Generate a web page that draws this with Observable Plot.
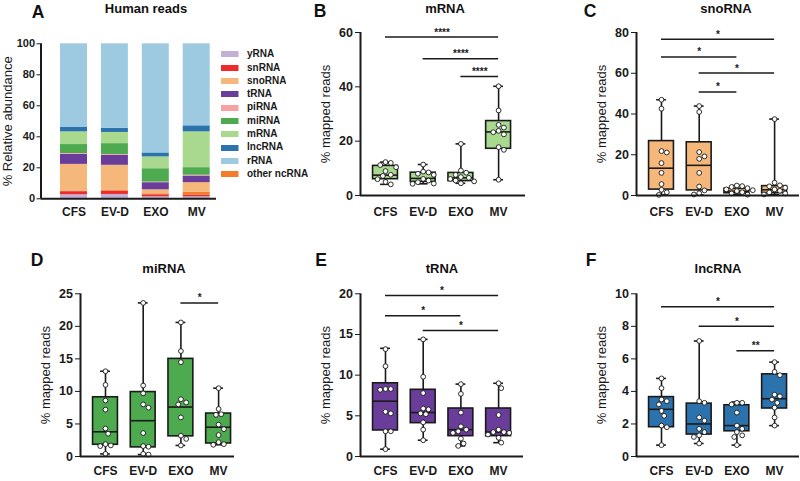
<!DOCTYPE html>
<html><head><meta charset="utf-8">
<script src="https://cdn.jsdelivr.net/npm/d3@7"></script>
<script src="https://cdn.jsdelivr.net/npm/@observablehq/plot@0.6"></script>
<style>
body{margin:0;background:#fff;}
#fig{position:relative;width:800px;height:481px;overflow:hidden;font-family:"Liberation Sans",Arial,sans-serif;background:#fff;}
#fig > svg{position:absolute;overflow:visible;}
.lbl{position:absolute;font-weight:bold;color:#111;transform:translate(-50%,-50%);white-space:nowrap;line-height:1;}
.letter{font-size:17.5px;}
.title{font-size:13px;}
g[aria-label="y-axis label"]{font-weight:normal;font-size:13px;}
g[aria-label="x-axis tick label"]{font-size:12px;}
#panelA g[aria-label="y-axis tick label"]{font-size:11px;}
#legend{position:absolute;left:220.5px;top:48.3px;margin:0;}
#legend svg{margin-right:9px !important;}
</style></head><body><div id="fig"></div>
<script>
const ink = "#1a1a1a";
const groups = ["CFS","EV-D","EXO","MV"];

// Panel A: relative abundance (%), values in rnaTypes order
const rnaTypes = ["yRNA","snRNA","snoRNA","tRNA","piRNA","miRNA","mRNA","lncRNA","rRNA","other ncRNA"];
const rnaColors = ["#c5b0d5","#ee2a2a","#f6b77b","#6a3d9a","#f7a1a3","#4eaa4e","#a8d98f","#2c73ae","#9ecae1","#f47c2a"];
const stackOrder = ["yRNA","snRNA","other ncRNA","snoRNA","tRNA","piRNA","miRNA","mRNA","lncRNA","rRNA"];
const abundCFS = [2.6, 2.0, 17.2, 6.5, 0.5, 5.8, 8.2, 2.8, 54.0, 0.4];
const abundEVD = [2.8, 2.2, 16.2, 6.5, 0.5, 7.0, 7.2, 2.6, 54.6, 0.4];
const abundEXO = [1.3, 1.3, 2.6, 4.6, 0.4, 8.6, 7.6, 2.6, 70.4, 0.6];
const abundMV  = [1.3, 1.0, 6.1, 4.3, 0.5, 4.9, 23.1, 3.9, 52.9, 2.0];
const abundTicks = [0,20,40,60,80,100];

// Panel B: mRNA
const mrnaPoints = [
  [12.3, 12.0, 11.2, 10.4, 9.0, 7.6, 7.2, 6.0, 5.0, 4.1],
  [11.4, 8.8, 8.5, 8.0, 7.6, 6.1, 5.5, 4.9, 4.4, 4.3],
  [19.0, 9.2, 8.4, 7.6, 6.8, 6.5, 6.1, 5.5, 5.2, 4.5],
  [40.2, 31.3, 26.0, 25.0, 23.8, 23.3, 22.5, 17.8, 16.8, 5.8]];
const mrnaBox = [[4.1,6.0,7.5,10.9,12.3],[4.3,5.0,6.3,8.4,11.4],[4.5,5.3,6.5,8.3,19.0],[5.8,17.2,23.4,27.4,40.2]];
const mrnaSig = [["CFS","MV",58.3,"****"],["EV-D","MV",50.3,"****"],["EXO","MV",43.8,"****"]];
const mrnaTicks = [0,20,40,60];

// Panel C: snoRNA
const snoPoints = [
  [47.0, 42.6, 21.8, 21.1, 15.9, 11.1, 5.6, 2.8, 1.6, 0.3],
  [43.9, 41.0, 21.3, 19.2, 18.0, 11.1, 4.4, 2.5, 1.1, 0.5],
  [4.9, 4.6, 4.2, 3.6, 3.0, 2.6, 2.2, 1.6, 1.0, 0.4],
  [37.5, 6.3, 5.0, 4.5, 3.8, 3.0, 2.3, 1.5, 1.0, 0.5]];
const snoBox = [[0.3,2.9,13.4,26.7,47.0],[0.3,2.5,14.8,26.1,43.9],[0.4,1.1,2.1,3.3,4.9],[0.5,1.2,2.8,4.6,37.5]];
const snoSig = [["CFS","MV",76.7,"*"],["CFS","EXO",68.0,"*"],["EV-D","MV",60.1,"*"],["EV-D","EXO",50.8,"*"]];
const snoTicks = [0,20,40,60,80];

// Panel D: miRNA
const mirPoints = [
  [13.1, 11.0, 8.6, 7.2, 4.3, 3.5, 1.9, 1.7, 1.6, 0.4],
  [23.6, 10.9, 9.7, 8.0, 7.5, 3.6, 1.6, 1.5, 0.4, 0.3],
  [20.6, 16.2, 14.5, 8.8, 8.3, 8.0, 6.0, 3.2, 2.7, 1.7],
  [10.5, 7.3, 6.5, 6.4, 4.9, 4.2, 3.3, 2.2, 1.9, 1.8]];
const mirBox = [[0.4,1.8,3.8,9.1,13.1],[0.3,1.4,5.5,9.9,23.6],[1.7,3.1,7.6,15.0,20.6],[1.8,2.0,4.5,6.6,10.5]];
const mirSig = [["EXO","MV",23.6,"*"]];
const mirTicks = [0,5,10,15,20,25];

// Panel E: tRNA
const trnaPoints = [
  [13.2, 11.1, 8.3, 8.3, 8.2, 5.5, 5.3, 3.1, 3.1, 0.9],
  [14.4, 9.8, 7.8, 5.9, 5.8, 5.3, 5.2, 4.2, 3.3, 2.0],
  [8.9, 7.7, 5.4, 3.7, 3.3, 3.1, 2.9, 2.2, 1.6, 1.3],
  [9.0, 8.4, 5.1, 3.3, 3.0, 3.0, 2.9, 2.7, 2.3, 1.7]];
const trnaBox = [[0.9,3.2,6.8,9.0,13.3],[2.0,4.1,5.4,8.2,14.4],[1.3,2.5,3.3,5.9,8.9],[1.7,2.5,3.0,5.9,9.0]];
const trnaSig = [["CFS","MV",19.8,"*"],["CFS","EXO",17.3,"*"],["EV-D","MV",15.5,"*"]];
const trnaTicks = [0,5,10,15,20];

// Panel F: lncRNA
const lncPoints = [
  [4.8, 4.2, 3.5, 3.4, 3.2, 2.8, 2.5, 1.9, 1.8, 0.7],
  [7.1, 3.4, 3.3, 2.4, 2.2, 1.7, 1.5, 1.3, 1.2, 0.8],
  [3.3, 3.3, 3.2, 2.7, 1.9, 1.7, 1.5, 1.3, 1.2, 0.7],
  [5.8, 5.2, 5.0, 3.8, 3.7, 3.5, 3.3, 3.0, 2.4, 1.9]];
const lncBox = [[0.7,1.8,2.9,3.65,4.8],[0.8,1.35,2.0,3.25,7.1],[0.7,1.55,1.9,3.15,3.35],[1.9,2.95,3.55,5.05,5.8]];
const lncSig = [["CFS","MV",9.2,"*"],["EV-D","MV",8.0,"*"],["EXO","MV",6.5,"**"]];
const lncTicks = [0,2,4,6,8,10];

const fig = document.getElementById("fig");
function label(text, x, y, cls) {
  const d = document.createElement("div");
  d.className = "lbl " + cls; d.textContent = text;
  d.style.left = x + "px"; d.style.top = y + "px";
  fig.appendChild(d);
}
function place(svg, L, T) { svg.style.left = L + "px"; svg.style.top = T + "px"; fig.appendChild(svg); }
const baseStyle = {fontFamily: '"Liberation Sans", Arial, sans-serif', fontSize: "12.5px", fontWeight: "bold", color: ink, background: "transparent", overflow: "visible"};

// beeswarm offsets (px) so dots of one group don't overlap
function swarm(values, pxPerY, r) {
  const d = 2 * r + 0.5, placed = [], offs = new Array(values.length);
  const order = d3.range(values.length).sort((a, b) => values[b] - values[a]);
  for (const k of order) {
    const y = values[k] * pxPerY;
    for (let j = 0; j < 40; j++) {
      const o = j === 0 ? 0 : (j % 2 ? 1 : -1) * Math.ceil(j / 2) * d * 0.5;
      if (placed.every(p => Math.hypot(p[0] - o, p[1] - y) >= d)) { offs[k] = o; placed.push([o, y]); break; }
    }
  }
  return offs;
}

// ---- Panel A ----
(function () {
  const L = 0, T = 0, W = 222, H = 225, x0 = 40.5, xEnd = 216, c0 = 73.5, step = 40.9, yTop = 43.3, yBot = 198.3;
  const series = [abundCFS, abundEVD, abundEXO, abundMV];
  const rows = [];
  series.forEach((vals, i) => {
    let acc = 0;
    for (const t of stackOrder) {
      const v = vals[rnaTypes.indexOf(t)];
      rows.push({i, type: t, y1: acc, y2: acc + v});
      acc += v;
    }
  });
  const svg = Plot.plot({
    width: W, height: H, marginLeft: x0 - L, marginRight: L + W - xEnd, marginTop: yTop - T, marginBottom: T + H - yBot,
    style: baseStyle,
    x: {domain: [(x0 - c0) / step, (xEnd - c0) / step]},
    y: {domain: [0, 100]},
    color: {domain: rnaTypes, range: rnaColors},
    marks: [
      Plot.rect(rows, {x1: d => d.i - 0.33, x2: d => d.i + 0.33, y1: "y1", y2: "y2", fill: "type"}),
      Plot.axisY({ticks: abundTicks, tickSize: 4, tickPadding: 2, label: "% Relative abundance", labelAnchor: "center", labelArrow: "none", labelOffset: 38}),
      Plot.axisX({ticks: [0,1,2,3], tickFormat: i => groups[i], tickSize: 0, tickPadding: 9}),
      Plot.ruleX([(x0 - c0) / step], {stroke: ink, strokeWidth: 2}),
      Plot.ruleY([0], {stroke: ink, strokeWidth: 2})
    ]
  });
  svg.id = "panelA";
  place(svg, L, T);
  const leg = Plot.legend({color: {domain: rnaTypes, range: rnaColors}, legend: "swatches", columns: 1, swatchWidth: 17.5, swatchHeight: 6,
    style: {fontFamily: '"Liberation Sans", Arial, sans-serif', fontSize: "10px", fontWeight: "bold", lineHeight: "12.3px", color: ink}});
  leg.id = "legend";
  fig.appendChild(leg);
  label("A", 38, 13, "letter");
  label("Human reads", 146, 8, "title");
})();

function boxPanel(cfg) {
  const {L, T, W, H, x0, xEnd, yTop, yBot, ticks, color, points, box, sig, letter, title, lx, ly, tx, ty, xPad} = cfg;
  const c0 = x0 + 25, step = 37.7, r = 2.4;
  const yMax = ticks[ticks.length - 1];
  const xDomain = [(x0 - c0) / step, (xEnd - c0) / step];
  const pxPerY = (yBot - yTop) / yMax;
  const stats = box.map((b, i) => ({i, min: b[0], q1: b[1], med: b[2], q3: b[3], max: b[4]}));
  const dots = [];
  points.forEach((vals, i) => {
    const offs = swarm(vals, pxPerY, r);
    vals.forEach((v, k) => dots.push({x: i + offs[k] / step, y: v}));
  });
  const sigRows = sig.map(([a, b, lvl, lab]) => ({a: groups.indexOf(a), b: groups.indexOf(b), lvl, lab}));
  const bw = 0.33, cw = 0.13;
  const svg = Plot.plot({
    width: W, height: H, marginLeft: x0 - L, marginRight: L + W - xEnd, marginTop: yTop - T, marginBottom: T + H - yBot,
    style: baseStyle,
    x: {domain: xDomain},
    y: {domain: [0, yMax]},
    marks: [
      Plot.axisY({ticks, tickSize: 5, tickPadding: 2.5, label: "% mapped reads", labelAnchor: "center", labelArrow: "none", labelOffset: 40}),
      Plot.axisX({ticks: [0,1,2,3], tickFormat: i => groups[i], tickSize: 0, tickPadding: xPad}),
      Plot.ruleX(stats, {x: "i", y1: "min", y2: "max", stroke: ink, strokeWidth: 1.6}),
      Plot.ruleY(stats, {y: "max", x1: d => d.i - cw, x2: d => d.i + cw, stroke: ink, strokeWidth: 1.6}),
      Plot.ruleY(stats, {y: "min", x1: d => d.i - cw, x2: d => d.i + cw, stroke: ink, strokeWidth: 1.6}),
      Plot.rect(stats, {x1: d => d.i - bw, x2: d => d.i + bw, y1: "q1", y2: "q3", fill: color, stroke: ink, strokeWidth: 1.6}),
      Plot.ruleY(stats, {y: "med", x1: d => d.i - bw, x2: d => d.i + bw, stroke: ink, strokeWidth: 1.6}),
      Plot.dot(dots, {x: "x", y: "y", r, fill: "white", stroke: ink, strokeWidth: 0.9}),
      Plot.ruleY(sigRows, {y: "lvl", x1: "a", x2: "b", stroke: ink, strokeWidth: 1.5}),
      Plot.text(sigRows, {x: d => (d.a + d.b) / 2, y: "lvl", text: "lab", lineAnchor: "bottom", dy: -1.5, fontSize: 10, fill: ink}),
      Plot.ruleX([xDomain[0]], {stroke: ink, strokeWidth: 2}),
      Plot.ruleY([0], {stroke: ink, strokeWidth: 2})
    ]
  });
  place(svg, L, T);
  label(letter, lx, ly, "letter");
  label(title, tx, ty, "title");
}

boxPanel({L: 265, T: 0, W: 270, H: 225, x0: 360, xEnd: 525, yTop: 32, yBot: 195, ticks: mrnaTicks, color: "#a8d98f",
  points: mrnaPoints, box: mrnaBox, sig: mrnaSig, letter: "B", title: "mRNA", lx: 320, ly: 12, tx: 445, ty: 8, xPad: 12});
boxPanel({L: 530, T: 0, W: 270, H: 225, x0: 636, xEnd: 799, yTop: 32, yBot: 195, ticks: snoTicks, color: "#f6b77b",
  points: snoPoints, box: snoBox, sig: snoSig, letter: "C", title: "snoRNA", lx: 590, ly: 12, tx: 726, ty: 8, xPad: 12});
boxPanel({L: 0, T: 240, W: 265, H: 241, x0: 80, xEnd: 234, yTop: 293.3, yBot: 456, ticks: mirTicks, color: "#4eaa4e",
  points: mirPoints, box: mirBox, sig: mirSig, letter: "D", title: "miRNA", lx: 37, ly: 261, tx: 164, ty: 268, xPad: 9.5});
boxPanel({L: 265, T: 240, W: 270, H: 241, x0: 360, xEnd: 523, yTop: 293.3, yBot: 456, ticks: trnaTicks, color: "#6a3d9a",
  points: trnaPoints, box: trnaBox, sig: trnaSig, letter: "E", title: "tRNA", lx: 321, ly: 261, tx: 442, ty: 268, xPad: 9.5});
boxPanel({L: 530, T: 240, W: 270, H: 241, x0: 636, xEnd: 799, yTop: 293.3, yBot: 456, ticks: lncTicks, color: "#2c73ae",
  points: lncPoints, box: lncBox, sig: lncSig, letter: "F", title: "lncRNA", lx: 591, ly: 261, tx: 718, ty: 268, xPad: 9.5});
</script></body></html>
